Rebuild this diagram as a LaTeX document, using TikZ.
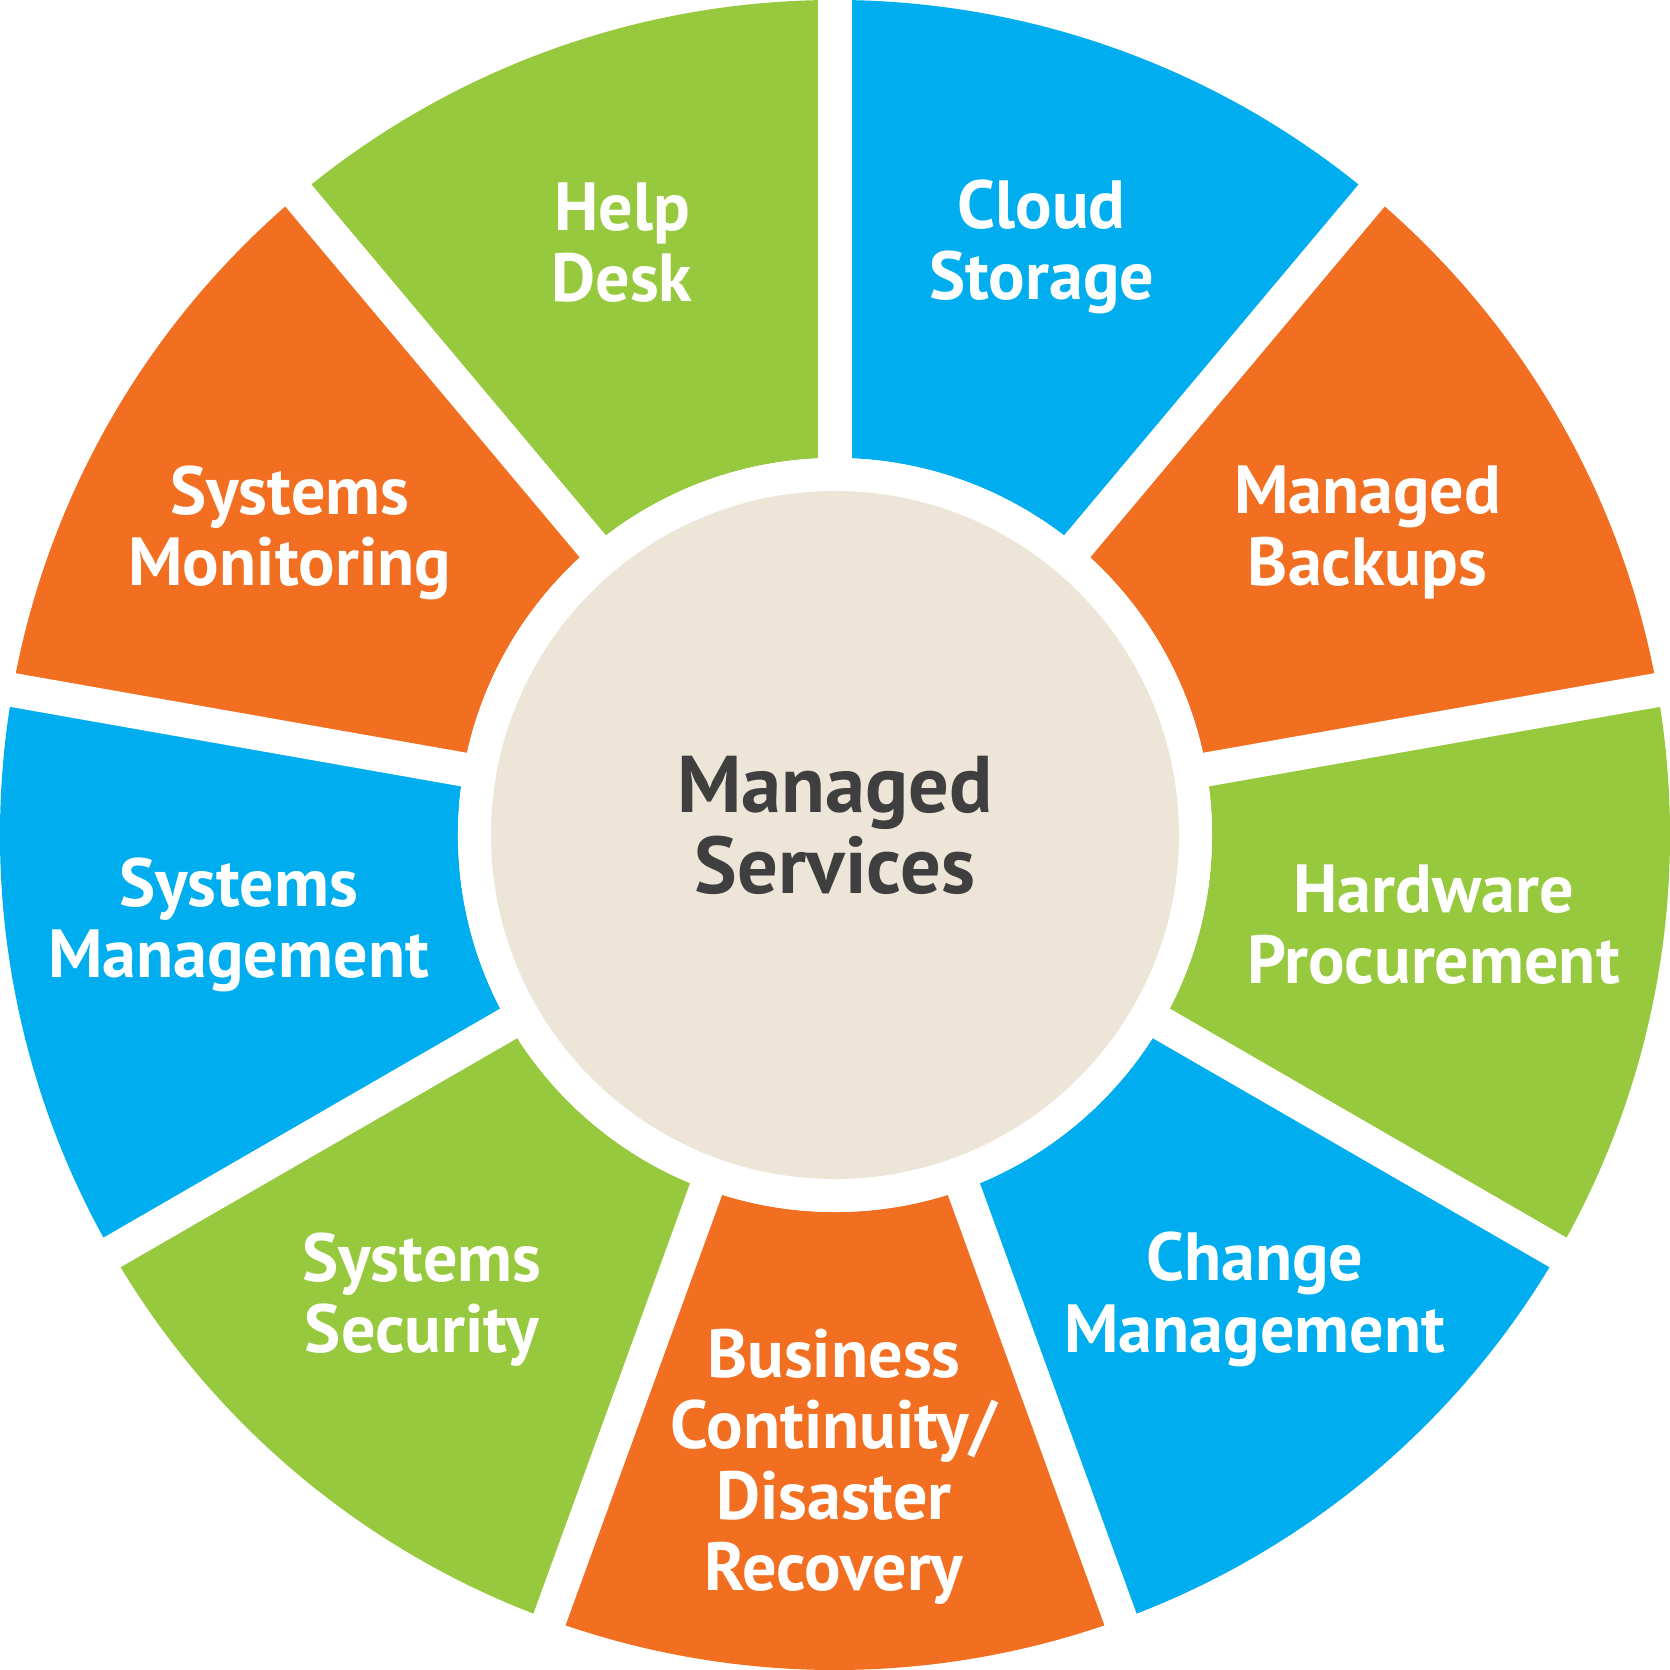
\documentclass[tikz,border=0pt]{standalone}
\usepackage{fontspec}
\setmainfont{PT Sans}
\definecolor{segGreen}{HTML}{96C93D}
\definecolor{segBlue}{HTML}{00AEEF}
\definecolor{segOrange}{HTML}{F26F22}
\definecolor{hubBeige}{HTML}{EEE5D9}
\definecolor{hubText}{HTML}{3F3F3F}
\tikzset{
  seglabel/.style={text=white, align=center, font=\fontsize{18.2}{19}\selectfont\bfseries},
  hublabel/.style={text=hubText, align=center, font=\fontsize{21.5}{21.5}\selectfont\bfseries}
}
\begin{document}
\begin{tikzpicture}[x=1cm,y=1cm]
  \useasboundingbox (-7.84,-7.84) rectangle (7.84,7.84);
  % ring segments, 40 degrees each
  \foreach \a/\c in {90/segGreen,130/segOrange,170/segBlue,210/segGreen,250/segOrange,
                     290/segBlue,330/segGreen,370/segOrange,410/segBlue} {
    \fill[\c] (\a:3.54) arc[start angle=\a, end angle=\a+40, radius=3.54]
      -- (\a+40:7.84) arc[start angle=\a+40, end angle=\a, radius=7.84] -- cycle;
  }
  % white gaps between segments
  \foreach \a in {90,130,...,410}
    \draw[white, line width=0.32cm] (0,0) -- (\a:8.2);
  \fill[white] (0,0) circle (3.54);
  \fill[hubBeige] (0,0) circle (3.23);
  \node[hublabel] (hub) at (0,0.09) {Managed\\Services};
  \node[seglabel] (help) at (-2.00,5.56) {Help\\Desk};
  \node[seglabel] (cloud) at (1.94,5.52) {Cloud\\Storage};
  \node[seglabel] (backups) at (5.00,2.84) {Managed\\Backups};
  \node[seglabel] (hardware) at (5.62,-0.84) {Hardware\\Procurement};
  \node[seglabel] (change) at (3.94,-4.36) {Change\\Management};
  \node[seglabel] (business) at (-0.01,-5.93) {Business\\Continuity/\\Disaster\\Recovery};
  \node[seglabel] (security) at (-3.88,-4.36) {Systems\\Security};
  \node[seglabel] (sysmgmt) at (-5.60,-0.84) {Systems\\Management};
  \node[seglabel] (monitor) at (-5.12,2.84) {Systems\\Monitoring};
\end{tikzpicture}
\end{document}
